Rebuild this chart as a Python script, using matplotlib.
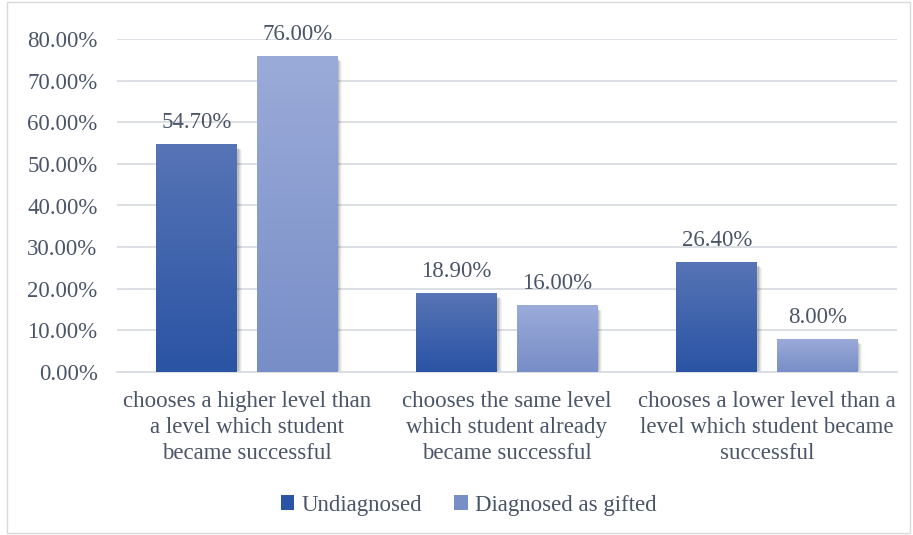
import numpy as np
import matplotlib.pyplot as plt
from matplotlib.colors import LinearSegmentedColormap
from matplotlib.patches import Rectangle, Patch

categories = [
    "chooses a higher level than\na level which student\nbecame successful",
    "chooses the same level\nwhich student already\nbecame successful",
    "chooses a lower level than a\nlevel which student became\nsuccessful",
]
series_names = ["Undiagnosed", "Diagnosed as gifted"]
undiagnosed = [54.70, 18.90, 26.40]
gifted = [76.00, 16.00, 8.00]
yticks = [0, 10, 20, 30, 40, 50, 60, 70, 80]

# gradient colours (top, bottom)
grads = [("#5774b6", "#2a54a4"), ("#9babd9", "#788ec7")]
text_color = "#4a5568"
fs = 16.5

plt.rcParams["font.family"] = ["Liberation Serif", "DejaVu Serif"]

fig = plt.figure(figsize=(9.13, 5.35), dpi=100)
ax = fig.add_axes([117 / 913, 163 / 535, 780 / 913, 333 / 535])

# light border round the chart area
fig.patches.append(Rectangle((7 / 913, 2 / 535), 903 / 913, 531 / 535,
                             transform=fig.transFigure, fill=False,
                             edgecolor="#d9d9d9", linewidth=1))

x = np.arange(len(categories))
width = 0.31
gap = 0.077
offsets = [-(width + gap) / 2, (width + gap) / 2]

grad = np.linspace(0, 1, 256).reshape(-1, 1)
for vals, off, (top, bot), name in zip([undiagnosed, gifted], offsets, grads, series_names):
    cmap = LinearSegmentedColormap.from_list(name, [bot, top])
    bars = ax.bar(x + off, vals, width, color="none", edgecolor="none", zorder=3)
    for b, v in zip(bars, vals):
        x0, w, h = b.get_x(), b.get_width(), b.get_height()
        # soft drop shadow
        for i, a in enumerate([0.10, 0.08, 0.06, 0.04]):
            ax.add_patch(Rectangle((x0 + 0.006 + i * 0.004, -0.3 - i * 0.15),
                                   w, h - 0.6, facecolor="black", alpha=a,
                                   edgecolor="none", zorder=2))
        im = ax.imshow(grad, extent=(x0, x0 + w, 0, h), origin="lower",
                       cmap=cmap, aspect="auto", zorder=3)
        im.set_clip_path(b)
        ax.annotate(f"{v:.2f}%", (x0 + w / 2, v), xytext=(0, 8),
                    textcoords="offset points", ha="center", va="bottom",
                    fontsize=fs, color=text_color, zorder=4)

ax.set_xlim(-0.5, 2.5)
ax.set_ylim(0, 80)
ax.set_yticks(yticks)
ax.set_yticklabels([f"{t:.2f}%" for t in yticks])
ax.set_xticks(x)
ax.set_xticklabels(categories, linespacing=1.3)
ax.grid(axis="y", color="#d9dde3", linewidth=1.3, zorder=0)
ax.set_axisbelow(True)
for s in ["top", "right", "left"]:
    ax.spines[s].set_visible(False)
ax.spines["bottom"].set_color("#d9dde3")
ax.spines["bottom"].set_linewidth(1.3)
ax.tick_params(axis="both", length=0, labelsize=fs, labelcolor=text_color)
ax.tick_params(axis="y", pad=14)
ax.tick_params(axis="x", pad=14)

handles = [Patch(facecolor=c[1], label=n) for c, n in zip(grads, series_names)]
fig.legend(handles=handles, loc="center", bbox_to_anchor=(0.513, 1 - 505 / 535),
           ncol=2, frameon=False, fontsize=fs, labelcolor=text_color,
           handlelength=0.6, handleheight=0.6, handletextpad=0.3,
           columnspacing=1.4)

fig.savefig("out.png", dpi=100)
